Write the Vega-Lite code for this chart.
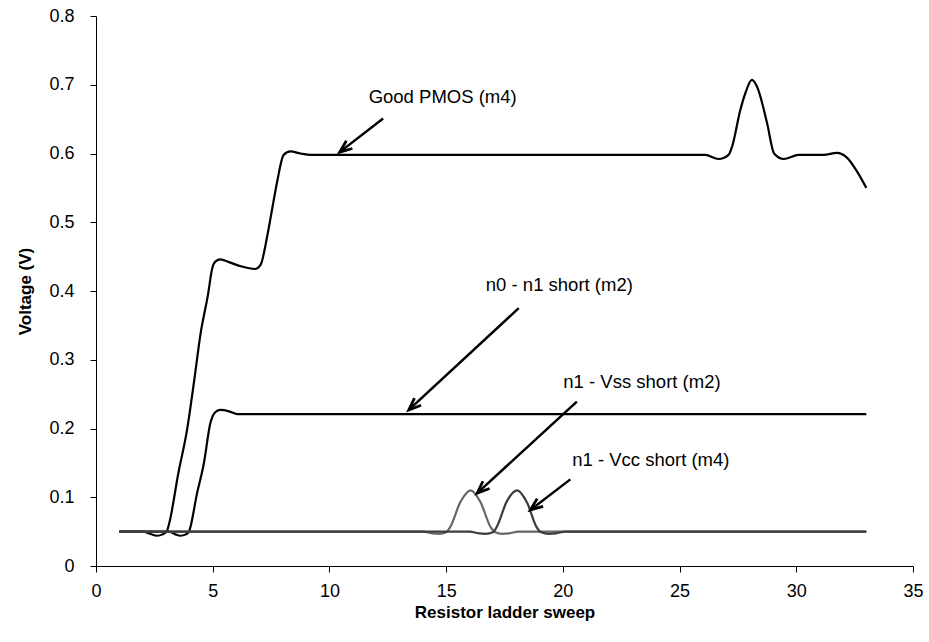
{
  "$schema": "https://vega.github.io/schema/vega-lite/v6.json",
  "width": 817,
  "height": 550,
  "autosize": {"type": "none"},
  "padding": {"left": 96, "top": 16, "right": 16, "bottom": 76},
  "background": "white",
  "config": {
    "view": {"stroke": null},
    "font": "Liberation Sans",
    "axis": {
      "grid": false,
      "domainColor": "black",
      "domainWidth": 1,
      "tickColor": "black",
      "tickWidth": 1,
      "tickSize": 6,
      "labelColor": "black",
      "titleColor": "black",
      "labelFont": "Liberation Sans",
      "titleFont": "Liberation Sans",
      "labelFontSize": 18,
      "titleFontSize": 17,
      "titleFontWeight": "bold"
    }
  },
  "datasets": {
    "curves": [
      {"series": "Good PMOS (m4)", "x": 1, "v": 0.05},
      {"series": "Good PMOS (m4)", "x": 2, "v": 0.05},
      {"series": "Good PMOS (m4)", "x": 2.3, "v": 0.047},
      {"series": "Good PMOS (m4)", "x": 2.62, "v": 0.044},
      {"series": "Good PMOS (m4)", "x": 2.85, "v": 0.046},
      {"series": "Good PMOS (m4)", "x": 3.02, "v": 0.05},
      {"series": "Good PMOS (m4)", "x": 3.55, "v": 0.139},
      {"series": "Good PMOS (m4)", "x": 3.9, "v": 0.198},
      {"series": "Good PMOS (m4)", "x": 4.2, "v": 0.268},
      {"series": "Good PMOS (m4)", "x": 4.48, "v": 0.338},
      {"series": "Good PMOS (m4)", "x": 4.8, "v": 0.395},
      {"series": "Good PMOS (m4)", "x": 4.98, "v": 0.433},
      {"series": "Good PMOS (m4)", "x": 5.12, "v": 0.443},
      {"series": "Good PMOS (m4)", "x": 5.33, "v": 0.446},
      {"series": "Good PMOS (m4)", "x": 5.7, "v": 0.442},
      {"series": "Good PMOS (m4)", "x": 6.2, "v": 0.436},
      {"series": "Good PMOS (m4)", "x": 6.8, "v": 0.432},
      {"series": "Good PMOS (m4)", "x": 7.05, "v": 0.438},
      {"series": "Good PMOS (m4)", "x": 7.33, "v": 0.479},
      {"series": "Good PMOS (m4)", "x": 7.55, "v": 0.52},
      {"series": "Good PMOS (m4)", "x": 7.76, "v": 0.559},
      {"series": "Good PMOS (m4)", "x": 8.04, "v": 0.598},
      {"series": "Good PMOS (m4)", "x": 8.33, "v": 0.603},
      {"series": "Good PMOS (m4)", "x": 8.76, "v": 0.6},
      {"series": "Good PMOS (m4)", "x": 9.2, "v": 0.598},
      {"series": "Good PMOS (m4)", "x": 26.1, "v": 0.598},
      {"series": "Good PMOS (m4)", "x": 26.67, "v": 0.592},
      {"series": "Good PMOS (m4)", "x": 27.1, "v": 0.598},
      {"series": "Good PMOS (m4)", "x": 27.25, "v": 0.61},
      {"series": "Good PMOS (m4)", "x": 27.6, "v": 0.663},
      {"series": "Good PMOS (m4)", "x": 27.82, "v": 0.688},
      {"series": "Good PMOS (m4)", "x": 28.1, "v": 0.707},
      {"series": "Good PMOS (m4)", "x": 28.32, "v": 0.697},
      {"series": "Good PMOS (m4)", "x": 28.75, "v": 0.644},
      {"series": "Good PMOS (m4)", "x": 29.05, "v": 0.6},
      {"series": "Good PMOS (m4)", "x": 29.46, "v": 0.592},
      {"series": "Good PMOS (m4)", "x": 30.1, "v": 0.598},
      {"series": "Good PMOS (m4)", "x": 31.17, "v": 0.598},
      {"series": "Good PMOS (m4)", "x": 31.74, "v": 0.601},
      {"series": "Good PMOS (m4)", "x": 32.17, "v": 0.594},
      {"series": "Good PMOS (m4)", "x": 32.6, "v": 0.574},
      {"series": "Good PMOS (m4)", "x": 33, "v": 0.55},
      {"series": "n0 - n1 short (m2)", "x": 1, "v": 0.05},
      {"series": "n0 - n1 short (m2)", "x": 3.12, "v": 0.05},
      {"series": "n0 - n1 short (m2)", "x": 3.4, "v": 0.046},
      {"series": "n0 - n1 short (m2)", "x": 3.62, "v": 0.044},
      {"series": "n0 - n1 short (m2)", "x": 3.85, "v": 0.046},
      {"series": "n0 - n1 short (m2)", "x": 3.98, "v": 0.05},
      {"series": "n0 - n1 short (m2)", "x": 4.33, "v": 0.106},
      {"series": "n0 - n1 short (m2)", "x": 4.62, "v": 0.149},
      {"series": "n0 - n1 short (m2)", "x": 4.9, "v": 0.208},
      {"series": "n0 - n1 short (m2)", "x": 5.12, "v": 0.224},
      {"series": "n0 - n1 short (m2)", "x": 5.33, "v": 0.227},
      {"series": "n0 - n1 short (m2)", "x": 5.7, "v": 0.225},
      {"series": "n0 - n1 short (m2)", "x": 6.05, "v": 0.221},
      {"series": "n0 - n1 short (m2)", "x": 33, "v": 0.221},
      {"series": "n1 - Vss short (m2)", "x": 1, "v": 0.05},
      {"series": "n1 - Vss short (m2)", "x": 14.0, "v": 0.05},
      {"series": "n1 - Vss short (m2)", "x": 14.4, "v": 0.0475},
      {"series": "n1 - Vss short (m2)", "x": 14.7, "v": 0.0468},
      {"series": "n1 - Vss short (m2)", "x": 15.0, "v": 0.049},
      {"series": "n1 - Vss short (m2)", "x": 15.18, "v": 0.057},
      {"series": "n1 - Vss short (m2)", "x": 15.61, "v": 0.093},
      {"series": "n1 - Vss short (m2)", "x": 16.05, "v": 0.11},
      {"series": "n1 - Vss short (m2)", "x": 16.47, "v": 0.093},
      {"series": "n1 - Vss short (m2)", "x": 16.9, "v": 0.057},
      {"series": "n1 - Vss short (m2)", "x": 17.1, "v": 0.049},
      {"series": "n1 - Vss short (m2)", "x": 17.4, "v": 0.0468},
      {"series": "n1 - Vss short (m2)", "x": 17.7, "v": 0.0475},
      {"series": "n1 - Vss short (m2)", "x": 18.1, "v": 0.05},
      {"series": "n1 - Vss short (m2)", "x": 33, "v": 0.05},
      {"series": "n1 - Vcc short (m4)", "x": 1, "v": 0.05},
      {"series": "n1 - Vcc short (m4)", "x": 16.0, "v": 0.05},
      {"series": "n1 - Vcc short (m4)", "x": 16.4, "v": 0.0475},
      {"series": "n1 - Vcc short (m4)", "x": 16.7, "v": 0.0468},
      {"series": "n1 - Vcc short (m4)", "x": 17.0, "v": 0.049},
      {"series": "n1 - Vcc short (m4)", "x": 17.17, "v": 0.057},
      {"series": "n1 - Vcc short (m4)", "x": 17.6, "v": 0.094},
      {"series": "n1 - Vcc short (m4)", "x": 18.04, "v": 0.11},
      {"series": "n1 - Vcc short (m4)", "x": 18.47, "v": 0.092},
      {"series": "n1 - Vcc short (m4)", "x": 18.87, "v": 0.057},
      {"series": "n1 - Vcc short (m4)", "x": 19.07, "v": 0.049},
      {"series": "n1 - Vcc short (m4)", "x": 19.4, "v": 0.0468},
      {"series": "n1 - Vcc short (m4)", "x": 19.7, "v": 0.0475},
      {"series": "n1 - Vcc short (m4)", "x": 20.1, "v": 0.05},
      {"series": "n1 - Vcc short (m4)", "x": 33, "v": 0.05}
    ],
    "notes": [
      {"label": "Good PMOS (m4)", "x": 11.68, "y": 0.682},
      {"label": "n0 - n1 short (m2)", "x": 16.7, "y": 0.409},
      {"label": "n1 - Vss short (m2)", "x": 20.02, "y": 0.267},
      {"label": "n1 - Vcc short (m4)", "x": 20.4, "y": 0.154}
    ],
    "arrows": [
      {"sx": 12.3, "sy": 0.651, "tx": 10.44, "ty": 0.602},
      {"sx": 18.11, "sy": 0.375, "tx": 13.4, "ty": 0.227},
      {"sx": 20.6, "sy": 0.239, "tx": 16.33, "ty": 0.106},
      {"sx": 20.32, "sy": 0.126, "tx": 18.61, "ty": 0.0815}
    ]
  },
  "layer": [
    {
      "data": {"name": "curves"},
      "mark": {"type": "line", "interpolate": "monotone", "strokeWidth": 2.2},
      "encoding": {
        "x": {
          "field": "x",
          "type": "quantitative",
          "scale": {"domain": [0, 35], "nice": false, "zero": false},
          "axis": {"title": "Resistor ladder sweep", "values": [0, 5, 10, 15, 20, 25, 30, 35], "labelPadding": 10, "titlePadding": 4, "labelFlush": false}
        },
        "y": {
          "field": "v",
          "type": "quantitative",
          "scale": {"domain": [0, 0.8], "nice": false},
          "axis": {"title": "Voltage (V)", "values": [0, 0.1, 0.2, 0.3, 0.4, 0.5, 0.6, 0.7, 0.8], "format": ".1~f", "labelPadding": 16, "titlePadding": 14, "labelFlush": false}
        },
        "color": {
          "field": "series",
          "type": "nominal",
          "scale": {
            "domain": ["Good PMOS (m4)", "n0 - n1 short (m2)", "n1 - Vss short (m2)", "n1 - Vcc short (m4)"],
            "range": ["#000000", "#000000", "#666666", "#3c3c3c"]
          },
          "legend": null
        }
      }
    },
    {
      "data": {"name": "arrows"},
      "mark": {"type": "rule", "color": "black", "strokeWidth": 2.5},
      "encoding": {
        "x": {"field": "sx", "type": "quantitative"},
        "y": {"field": "sy", "type": "quantitative"},
        "x2": {"field": "tx"},
        "y2": {"field": "ty"}
      }
    },
    {
      "data": {"name": "arrows"},
      "transform": [
        {"calculate": "atan2(-(datum.ty - datum.sy) * 687.5, (datum.tx - datum.sx) * 23.35) * 180 / PI", "as": "ang"}
      ],
      "mark": {"type": "point", "shape": "M -2 -0.8 L 0 0 L -2 0.8", "filled": false, "stroke": "black", "strokeWidth": 2.8, "opacity": 1, "size": 150, "strokeJoin": "miter"},
      "encoding": {
        "x": {"field": "tx", "type": "quantitative"},
        "y": {"field": "ty", "type": "quantitative"},
        "angle": {"field": "ang", "type": "quantitative", "scale": null}
      }
    },
    {
      "data": {"name": "notes"},
      "mark": {"type": "text", "align": "left", "baseline": "middle", "font": "Liberation Sans", "fontSize": 18.5, "color": "black"},
      "encoding": {
        "x": {"field": "x", "type": "quantitative"},
        "y": {"field": "y", "type": "quantitative"},
        "text": {"field": "label"}
      }
    }
  ]
}
